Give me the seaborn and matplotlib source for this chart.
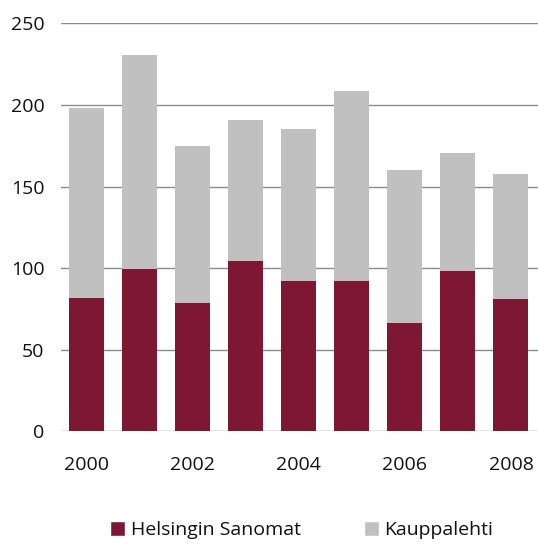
import pandas as pd
import matplotlib.pyplot as plt
import seaborn as sns
from matplotlib.patches import Patch

# Values
years = [2000, 2001, 2002, 2003, 2004, 2005, 2006, 2007, 2008]
helsingin_sanomat = [81.5, 99.6, 78.8, 104.5, 92.3, 92.3, 66.6, 98.4, 81.3]
kauppalehti = [116.5, 131.0, 95.8, 86.5, 92.7, 116.4, 93.4, 71.9, 76.2]

HS_COLOR = '#7e1734'
KL_COLOR = '#c0c0c0'

df = pd.DataFrame({'year': [str(y) for y in years],
                   'hs': helsingin_sanomat,
                   'kl': kauppalehti})
df['total'] = df['hs'] + df['kl']

sns.set_style('white')
plt.rcParams['font.family'] = ['Open Sans', 'DejaVu Sans']

fig = plt.figure(figsize=(5.38, 5.45), dpi=100)
ax = fig.add_axes([0.1134, 0.2086, 0.8866, 0.7486])

# stacked bars: total in grey underneath, Helsingin Sanomat drawn over it from zero
sns.barplot(data=df, x='year', y='total', color=KL_COLOR, width=0.66,
            saturation=1, linewidth=0, ax=ax, zorder=3)
sns.barplot(data=df, x='year', y='hs', color=HS_COLOR, width=0.66,
            saturation=1, linewidth=0, ax=ax, zorder=3)

ax.set_ylim(0, 250)
ax.set_xlim(-0.48, 8.51)
ax.set_yticks(range(0, 251, 50))
ax.yaxis.grid(True, color='#8c8c8c', linewidth=1.0, zorder=0)
ax.set_axisbelow(True)
for s in ax.spines.values():
    s.set_visible(False)

ax.set_xticks(range(len(years)))
ax.set_xticklabels([str(y) if y % 2 == 0 else '' for y in years])
ax.tick_params(axis='both', length=0, labelsize=14, colors='#111111')
ax.tick_params(axis='x', pad=18)
ax.tick_params(axis='y', pad=12)
ax.set_xlabel('')
ax.set_ylabel('')

handles = [Patch(facecolor=HS_COLOR, label='Helsingin Sanomat'),
           Patch(facecolor=KL_COLOR, label='Kauppalehti')]
fig.legend(handles=handles, loc='center', bbox_to_anchor=(0.561, 0.027),
           ncol=2, frameon=False, fontsize=14, handlelength=0.75,
           handleheight=0.75, handletextpad=0.3, columnspacing=3.25,
           labelcolor='#111111')

fig.savefig('out.png', dpi=100)
